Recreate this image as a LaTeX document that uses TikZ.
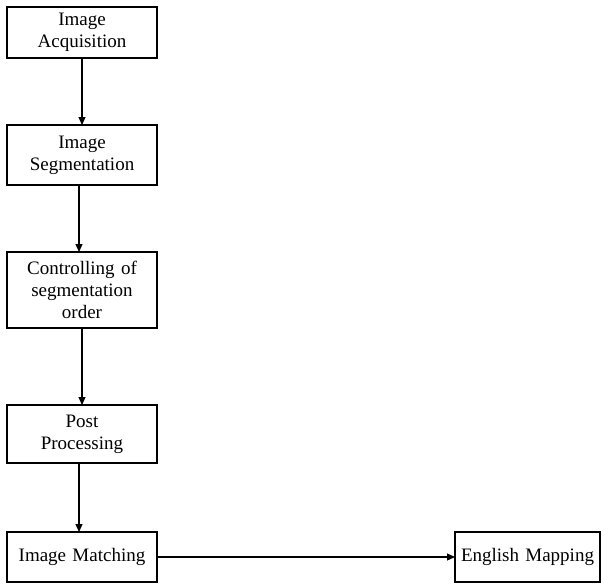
\documentclass[tikz,border=0pt]{standalone}
\usepackage{fontspec}
\setmainfont{Liberation Serif}
\usetikzlibrary{arrows.meta,positioning}

\begin{document}
\begin{tikzpicture}[x=1pt, y=1pt,
  font=\fontsize{19}{22}\selectfont,
  stagebox/.style={draw, line width=1.1pt, align=center, text width=150pt, inner sep=0pt, outer sep=0pt},
  arr/.style={-{Triangle[length=8pt,width=7pt]}, line width=1.1pt}]
  \useasboundingbox (0,0) rectangle (601,-584);
  % processing chain, top to bottom
  \node[stagebox, minimum height=51pt, anchor=north west] (acq) at (7,-7) {Image\\Acquisition};
  \node[stagebox, minimum height=60pt, below=67pt of acq] (seg) {Image\\Segmentation};
  \node[stagebox, minimum height=76pt, below=67pt of seg] (ctrl) {Controlling of\\segmentation\\order};
  \node[stagebox, minimum height=58pt, below=77pt of ctrl] (post) {Post\\Processing};
  \node[stagebox, minimum height=50pt, below=69pt of post] (match) {Image Matching};
  % output
  \node[stagebox, text width=145pt, minimum height=50pt, anchor=north west] (eng) at (455,-532) {English Mapping};
  \draw[arr] (acq) -- (seg);
  \draw[arr] ([xshift=-3pt]seg.south) -- ([xshift=-3pt]seg.south |- ctrl.north);
  \draw[arr] (ctrl) -- (post);
  \draw[arr] ([xshift=-3pt]post.south) -- ([xshift=-3pt]post.south |- match.north);
  \draw[arr] (match) -- (eng);
\end{tikzpicture}
\end{document}
